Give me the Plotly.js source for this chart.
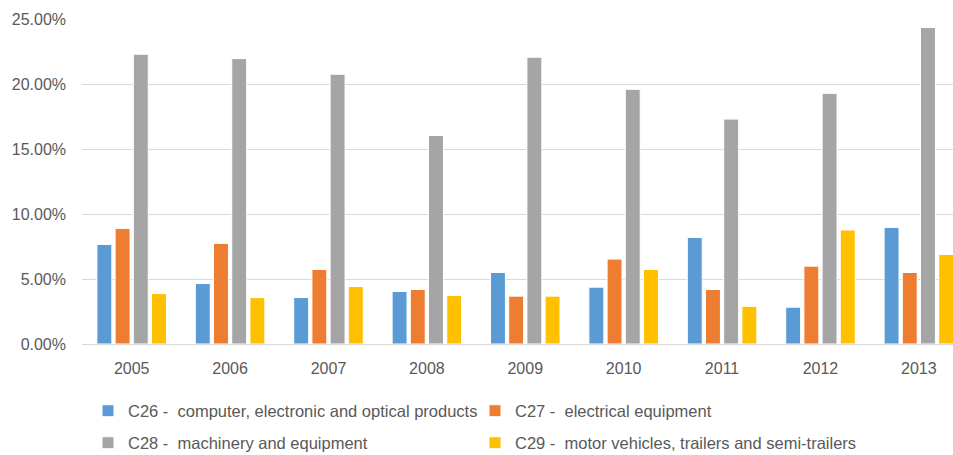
<!DOCTYPE html>
<html>
<head>
<meta charset="utf-8">
<script src="https://cdn.plot.ly/plotly-3.0.1.min.js"></script>
<style>html,body{margin:0;padding:0;background:#fff;}#chart{width:953px;height:455px;}</style>
</head>
<body>
<div id="chart"></div>
<script>
var years = ["2005","2006","2007","2008","2009","2010","2011","2012","2013"];
var c26 = [0.0766,0.0465,0.0357,0.0404,0.0550,0.0437,0.0820,0.0283,0.0897];
var c27 = [0.0889,0.0774,0.0573,0.0419,0.0368,0.0653,0.0419,0.0599,0.0550];
var c28 = [0.2229,0.2195,0.2075,0.1604,0.2206,0.1959,0.1730,0.1928,0.2434];
var c29 = [0.0388,0.0357,0.0442,0.0373,0.0368,0.0573,0.0290,0.0877,0.0689];
var names = ["C26 -  computer, electronic and optical products","C27 -  electrical equipment","C28 -  machinery and equipment","C29 -  motor vehicles, trailers and semi-trailers"];
var colors = ["#5B9BD5","#ED7D31","#A5A5A5","#FFC000"];
var series = [c26,c27,c28,c29];
var legends = ["legend","legend","legend2","legend2"];

var traces = series.map(function(v,i){
  return {type:"bar", x:years, y:v, name:names[i], legend:legends[i],
    marker:{color:colors[i], line:{width:1, color:"#ffffff"}}, hoverinfo:"y"};
});

var legFont = {family:"Liberation Sans, Arial, sans-serif", size:16.5, color:"#595959"};
var layout = {
  width:953, height:455,
  margin:{l:82, r:0, t:19, b:111, pad:0},
  paper_bgcolor:"#fff", plot_bgcolor:"#fff",
  barmode:"group", bargap:0.26, bargroupgap:0.18,
  font:{family:"Liberation Sans, Arial, sans-serif", size:16, color:"#595959"},
  xaxis:{type:"category", range:[-0.505, 8.347], showgrid:false, zeroline:false,
    showline:false, ticks:"", ticklabelstandoff:13, tickfont:{size:16, color:"#595959"}},
  yaxis:{range:[0,0.25], dtick:0.05, tick0:0, tickformat:".2%", showgrid:true,
    gridcolor:"#d9d9d9", gridwidth:1, zeroline:true, zerolinecolor:"#d9d9d9", zerolinewidth:1,
    showline:false, ticks:"", ticklabelstandoff:15, tickfont:{size:16, color:"#595959"}},
  legend:{orientation:"h", xref:"container", yref:"container", x:88/953, y:1-411/455,
    xanchor:"left", yanchor:"middle", entrywidth:342, font:legFont, bgcolor:"rgba(0,0,0,0)", itemclick:false},
  legend2:{orientation:"h", xref:"container", yref:"container", x:88/953, y:1-443/455,
    xanchor:"left", yanchor:"middle", entrywidth:342, font:legFont, bgcolor:"rgba(0,0,0,0)", itemclick:false},
  showlegend:true
};
Plotly.newPlot("chart", traces, layout, {displayModeBar:false, staticPlot:true});
</script>
</body>
</html>
